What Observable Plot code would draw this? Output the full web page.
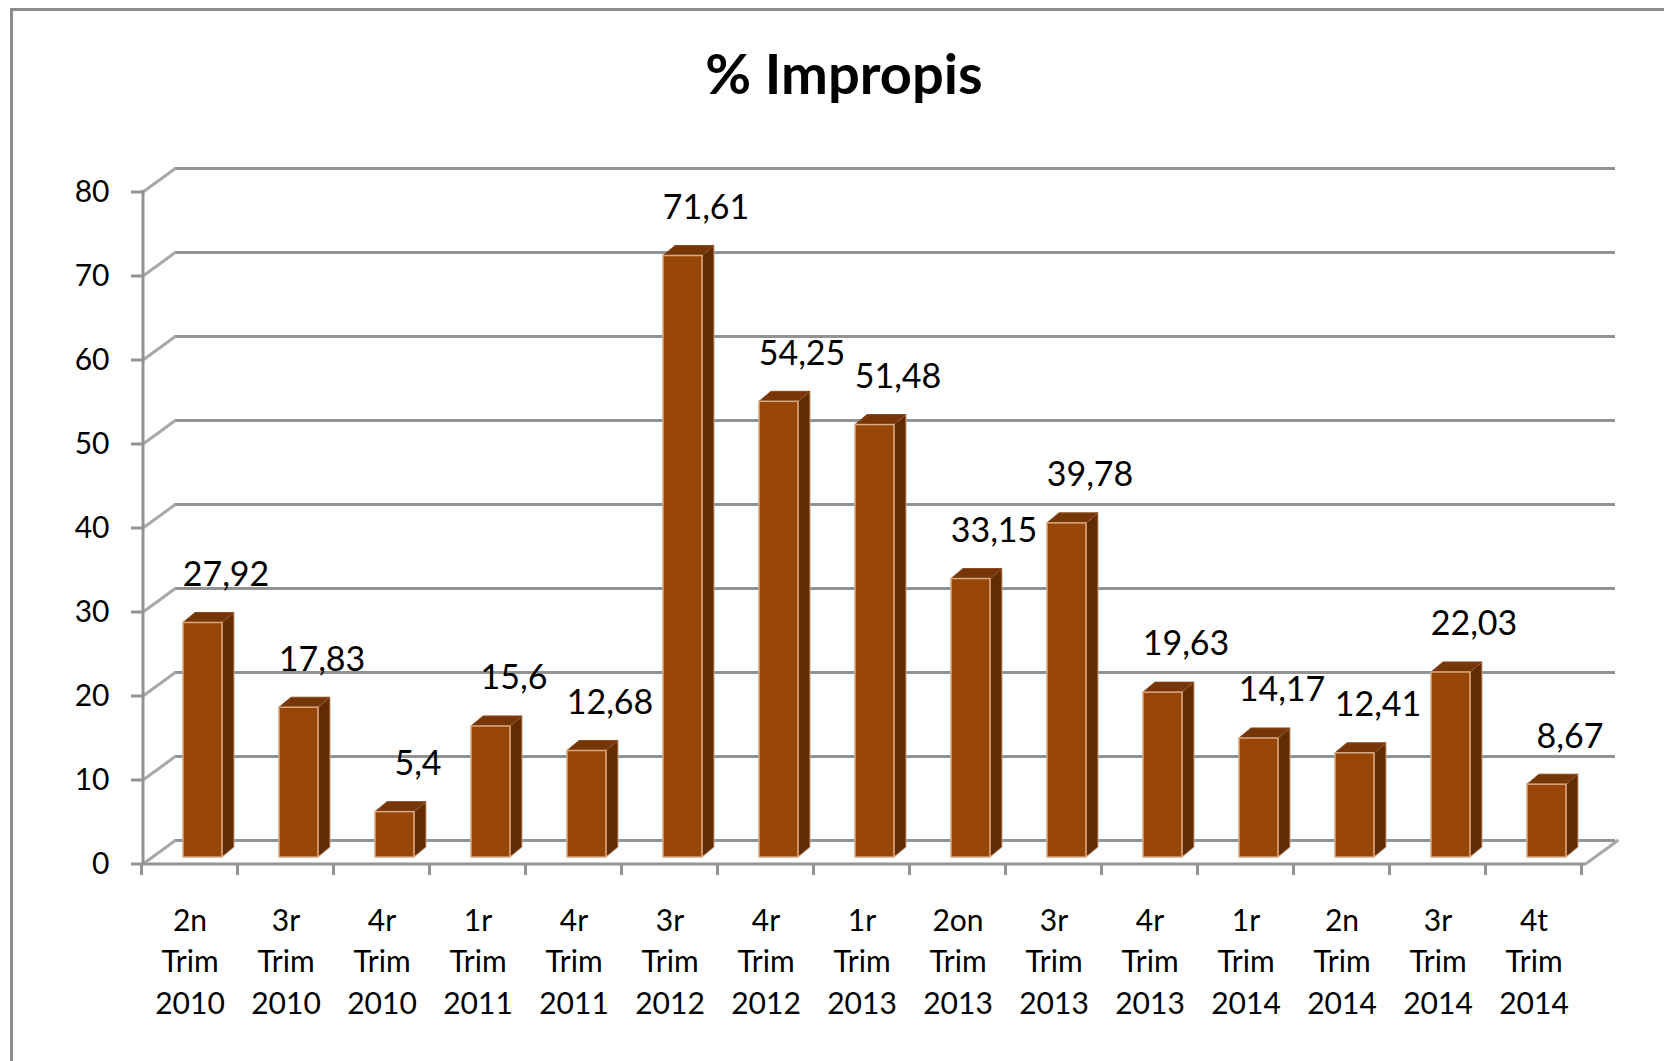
<!DOCTYPE html>
<html>
<head>
<meta charset="utf-8">
<script src="https://cdn.jsdelivr.net/npm/d3@7"></script>
<script src="https://cdn.jsdelivr.net/npm/@observablehq/plot@0.6"></script>
<style>
  html, body { margin: 0; padding: 0; background: #fff; }
  #wrap { position: relative; width: 1664px; height: 1061px; overflow: hidden; background: #fff; }
  #frame { position: absolute; left: 10px; top: 8px; width: 1700px; height: 1100px; border: 3px solid #8c8c8c; box-sizing: border-box; }
  #title { position: relative; height: 120px; box-sizing: border-box; padding-top: 41px; padding-left: 24px;
           font: bold 56px Lato, "Open Sans", sans-serif; line-height: 64px; text-align: center; color: #000; }
  #chart { position: relative; }
  #chart svg { display: block; }
</style>
</head>
<body>
<div id="wrap">
  <div id="frame"></div>
  <div id="title">% Impropis</div>
  <div id="chart"></div>
</div>
<script>
const quarters = ["2n", "3r", "4r", "1r", "4r", "3r", "4r", "1r", "2on", "3r", "4r", "1r", "2n", "3r", "4t"];
const years = ["2010", "2010", "2010", "2011", "2011", "2012", "2012", "2013", "2013", "2013", "2013", "2014", "2014", "2014", "2014"];
const values = [27.92, 17.83, 5.4, 15.6, 12.68, 71.61, 54.25, 51.48, 33.15, 39.78, 19.63, 14.17, 12.41, 22.03, 8.67];
const yTicks = [0, 10, 20, 30, 40, 50, 60, 70, 80];

const categories = quarters.map((q, i) => `${q} Trim ${years[i]}`);
const data = categories.map((c, i) => ({cat: c, q: quarters[i], yr: years[i], value: values[i]}));

// 3D look
const WALL_DX = 33, WALL_DY = -24;   // depth of back wall
const BAR_DX = 13, BAR_DY = -7;      // bars sit inside the floor
const DEPTH_X = 12, DEPTH_Y = -10;   // bar depth
const GRID = "#939393";
const FONT = "Lato, 'Open Sans', sans-serif";

function walls(index, scales, vals, dims) {
  const {x, y} = scales;
  const {marginLeft} = dims;
  const g = d3.create("svg:g").attr("fill", "none").attr("stroke", GRID).attr("stroke-width", 3);
  const ax = marginLeft + 2;
  const y0 = y(0);
  for (const t of yTicks) {
    g.append("line").attr("x1", ax).attr("y1", y(t)).attr("x2", ax + WALL_DX).attr("y2", y(t) + WALL_DY)
      .attr("stroke", "#a8a8a8");
    g.append("line").attr("x1", ax - 12).attr("y1", y(t)).attr("x2", ax).attr("y2", y(t));
  }
  g.append("line").attr("x1", ax).attr("y1", y0 + 1).attr("x2", ax).attr("y2", y(80) - 2);
  const step = x.step(), bw = x.bandwidth();
  const edges = categories.map(c => x(c) + bw / 2 - step / 2);
  edges.push(edges[edges.length - 1] + step);
  const xr = edges[edges.length - 1] + 4;
  g.append("line").attr("x1", ax).attr("y1", y0).attr("x2", xr).attr("y2", y0);
  g.append("line").attr("x1", xr).attr("y1", y0).attr("x2", xr + WALL_DX).attr("y2", y0 + WALL_DY)
    .attr("stroke", "#a8a8a8");
  for (const e of edges) {
    g.append("line").attr("x1", e).attr("y1", y0).attr("x2", e).attr("y2", y0 + 11);
  }
  return g.node();
}

function barFaces(index, scales, vals, dims) {
  const {x, y} = scales;
  const bw = x.bandwidth();
  const g = d3.create("svg:g").attr("stroke", "#c99a78").attr("stroke-width", 1).attr("stroke-linejoin", "round");
  for (const d of data) {
    const xl = x(d.cat) + BAR_DX, xr = xl + bw;
    const yt = y(d.value) + BAR_DY, yb = y(0) + BAR_DY;
    g.append("path").attr("fill", "#622c03")
      .attr("d", `M${xr},${yb}L${xr},${yt}L${xr + DEPTH_X},${yt + DEPTH_Y}L${xr + DEPTH_X},${yb + DEPTH_Y}Z`);
    g.append("path").attr("fill", "#773608").attr("stroke", "#8a4a1c")
      .attr("d", `M${xl},${yt}L${xl + DEPTH_X},${yt + DEPTH_Y}L${xr + DEPTH_X},${yt + DEPTH_Y}L${xr},${yt}Z`);
  }
  return g.node();
}

const fmt = v => String(v).replace(".", ",");

const plot = Plot.plot({
  width: 1664,
  height: 941,
  marginTop: 72,
  marginBottom: 197,
  marginLeft: 141,
  marginRight: 82,
  style: {background: "transparent", fontFamily: FONT, color: "#000"},
  x: {type: "band", domain: categories, paddingInner: 0.594, paddingOuter: 0.297, align: 0.5, axis: null},
  y: {domain: [0, 80], axis: null},
  marks: [
    Plot.ruleY(yTicks, {dx: WALL_DX, dy: WALL_DY, stroke: GRID, strokeWidth: 3}),
    walls,
    barFaces,
    Plot.barY(data, {x: "cat", y: "value", dx: BAR_DX, dy: BAR_DY, fill: "#984607", stroke: "#d8a882", strokeWidth: 1.5}),
    Plot.text(data, {x: "cat", y: "value", text: d => fmt(d.value), dx: 36, dy: -55, fontSize: 34, fill: "#000"}),
    Plot.text(yTicks, {y: d => d, text: d => String(d), frameAnchor: "left", textAnchor: "end", dx: -32, fontSize: 30, fill: "#000"}),
    Plot.text(data, {x: "cat", text: d => `${d.q}\nTrim\n${d.yr}`, frameAnchor: "bottom", lineAnchor: "top", dy: 37, fontSize: 30, lineHeight: 1.38, fill: "#000"})
  ]
});
document.getElementById("chart").appendChild(plot);
</script>
</body>
</html>
